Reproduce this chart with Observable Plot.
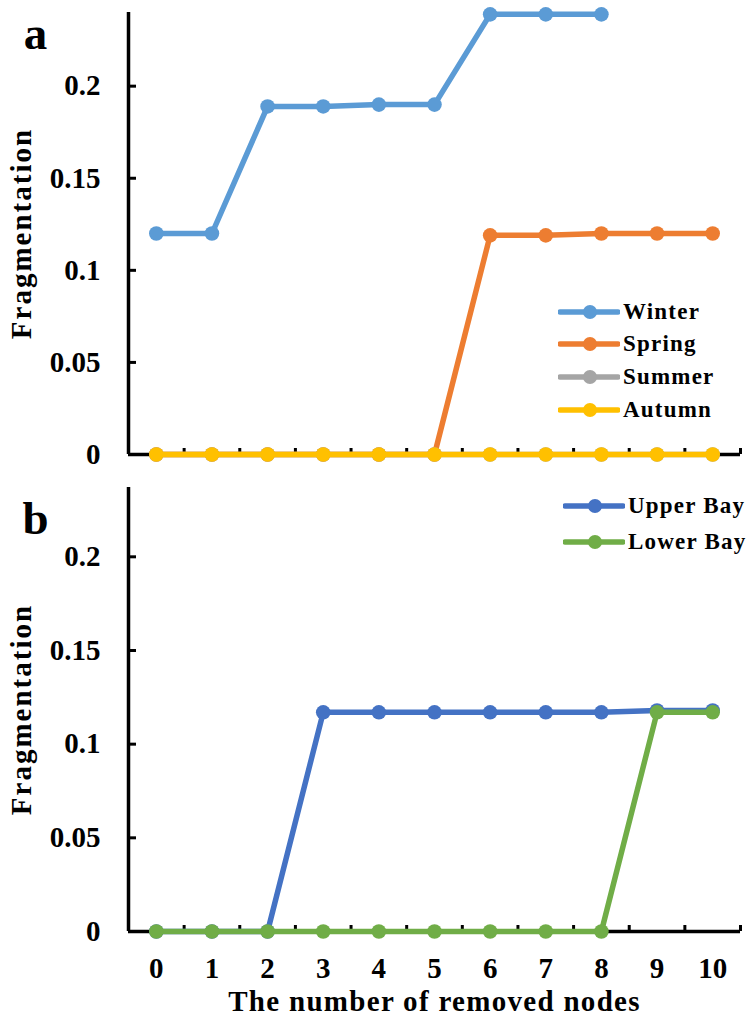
<!DOCTYPE html>
<html><head><meta charset="utf-8">
<script src="https://cdn.jsdelivr.net/npm/d3@7"></script>
<script src="https://cdn.jsdelivr.net/npm/@observablehq/plot@0.6"></script>
<style>
body{margin:0;background:#fff;}
#wrap{position:relative;width:751px;height:1022px;background:#fff;font-family:"Liberation Serif","Times New Roman",serif;font-weight:bold;color:#000;}
.row{position:absolute;height:30px;display:flex;align-items:center;white-space:nowrap;font-size:23px;letter-spacing:1.2px;}
.row svg{margin-right:3px;}
</style></head><body>
<div id="wrap">
  <div id="pa" style="position:absolute;left:0;top:0"></div>
  <div id="pb" style="position:absolute;left:0;top:470px"></div>
</div>
<script>
// ---- data ----
const nodes = [0, 1, 2, 3, 4, 5, 6, 7, 8, 9, 10];

const seasonNames = ["Winter", "Spring", "Summer", "Autumn"];
const seasonColors = ["#5B9BD5", "#ED7D31", "#A5A5A5", "#FFC000"];
const winter = [0.12, 0.12, 0.189, 0.189, 0.19, 0.19, 0.239, 0.239, 0.239];
const spring = [0, 0, 0, 0, 0, 0, 0.119, 0.119, 0.12, 0.12, 0.12];
const summer = [0, 0, 0, 0, 0, 0, 0, 0, 0, 0, 0];
const autumn = [0, 0, 0, 0, 0, 0, 0, 0, 0, 0, 0];

const bayNames = ["Upper Bay", "Lower Bay"];
const bayColors = ["#4472C4", "#70AD47"];
const upperBay = [0, 0, 0, 0.117, 0.117, 0.117, 0.117, 0.117, 0.117, 0.118, 0.118];
const lowerBay = [0, 0, 0, 0, 0, 0, 0, 0, 0, 0.117, 0.117];

const yTicks = [0, 0.05, 0.1, 0.15, 0.2];
const yTickLabels = ["0", "0.05", "0.1", "0.15", "0.2"];
const xTitle = "The number of removed nodes";
const yTitle = "Fragmentation";
const panelLetters = ["a", "b"];

// ---- drawing ----
const FONT = '"Liberation Serif","Times New Roman",serif';
const W = 751, ML = 128, MR = 11;

function panel(opts) {
  const {names, colors, values, letter, showX, height, marginTop, marginBottom, ymax, letterDy} = opts;
  const frameW = W - ML - MR;
  const frameH = height - marginTop - marginBottom;
  const marks = [
    // axis lines
    Plot.ruleY([0], {stroke: "black", strokeWidth: 3.5}),
    Plot.ruleX([-0.5], {stroke: "black", strokeWidth: 3.5}),
    // x tick marks between categories (pointing up)
    Plot.ruleX(nodes.map(d => d + 0.5), {stroke: "black", strokeWidth: 3, insetTop: frameH - 6}),
    // y tick marks (pointing right)
    Plot.ruleY(yTicks.slice(1), {stroke: "black", strokeWidth: 3, insetRight: frameW - 8}),
    Plot.axisY({ticks: yTicks, tickSize: 0, tickPadding: 28, fontSize: 29, fontWeight: "bold",
      tickFormat: d => yTickLabels[yTicks.indexOf(d)], label: null}),
    Plot.text([yTitle], {frameAnchor: "left", rotate: -90, dx: -107, fontSize: 29, fontWeight: "bold",
      textAnchor: "middle", lineAnchor: "middle"}),
    Plot.text([letter], {frameAnchor: "top-left", dx: -93, dy: letterDy, fontSize: 47, fontWeight: "bold",
      textAnchor: "middle", lineAnchor: "bottom"})
  ];
  if (showX) {
    marks.push(Plot.axisX({ticks: nodes, tickSize: 0, tickPadding: 26, fontSize: 29, fontWeight: "bold",
      tickFormat: d => String(d), label: null}));
    marks.push(Plot.text([xTitle], {frameAnchor: "bottom", dy: 70, fontSize: 29, fontWeight: "bold",
      textAnchor: "middle", lineAnchor: "middle"}));
  }
  names.forEach((name, i) => {
    const rows = values[i].map((v, j) => ({x: nodes[j], y: v}));
    marks.push(Plot.line(rows, {x: "x", y: "y", stroke: colors[i], strokeWidth: 5.5,
      strokeLinejoin: "round", strokeLinecap: "round"}));
    marks.push(Plot.dot(rows, {x: "x", y: "y", r: 7.3, fill: colors[i], stroke: "none"}));
  });
  return Plot.plot({
    width: W, height, marginLeft: ML, marginRight: MR, marginTop, marginBottom,
    x: {type: "linear", domain: [-0.5, 10.5], axis: showX ? undefined : null},
    y: {domain: [0, ymax]},
    style: {fontFamily: FONT, background: "white", color: "black", overflow: "visible"},
    marks
  });
}

const plotA = panel({names: seasonNames, colors: seasonColors, values: [winter, spring, summer, autumn],
  letter: panelLetters[0], showX: false, height: 470, marginTop: 12, marginBottom: 16, ymax: 0.24, letterDy: 36});
const plotB = panel({names: bayNames, colors: bayColors, values: [upperBay, lowerBay],
  letter: panelLetters[1], showX: true, height: 552, marginTop: 17, marginBottom: 91, ymax: 0.237, letterDy: 46});

document.getElementById("pa").appendChild(plotA);
document.getElementById("pb").appendChild(plotB);

// letter spacing tweaks for titles
document.querySelectorAll("#wrap svg text").forEach(t => {
  if (t.textContent === yTitle) t.style.letterSpacing = "2px";
  if (t.textContent === xTitle) t.style.letterSpacing = "1.3px";
});

// ---- legends (HTML) ----
function legend(names, colors, left, centers) {
  const wrap = document.getElementById("wrap");
  names.forEach((name, i) => {
    const row = document.createElement("div");
    row.className = "row";
    row.style.left = left + "px";
    row.style.top = (centers[i] - 15) + "px";
    const c = colors[i];
    row.innerHTML = `<svg width="62" height="16"><line x1="2" x2="60" y1="8" y2="8" stroke="${c}" stroke-width="5.5" stroke-linecap="round"/><circle cx="32" cy="8" r="7" fill="${c}"/></svg><span>${name}</span>`;
    wrap.appendChild(row);
  });
}
legend(seasonNames, seasonColors, 558, [312, 344, 377, 410]);
legend(bayNames, bayColors, 563, [506, 542]);
</script>
</body></html>
